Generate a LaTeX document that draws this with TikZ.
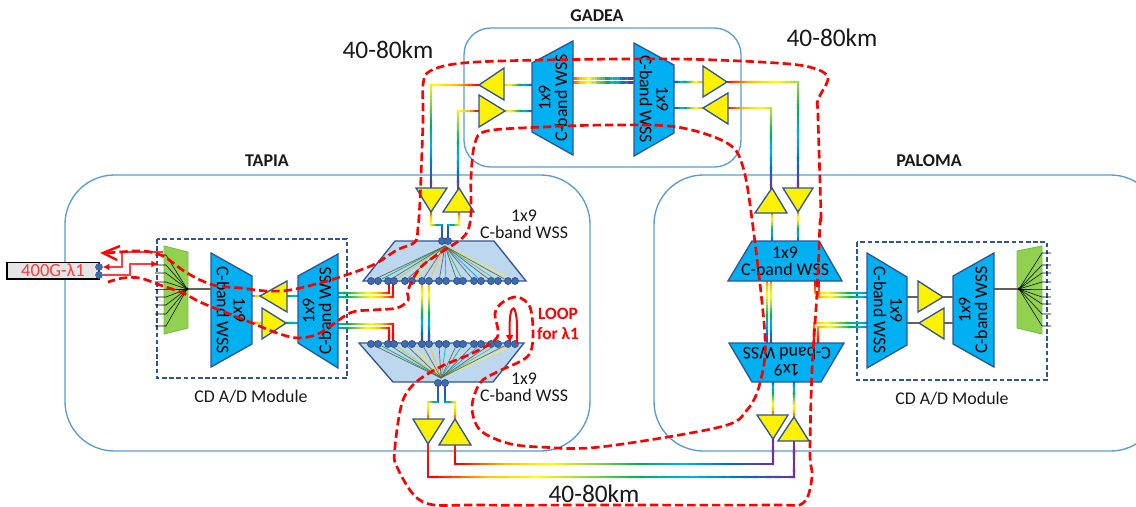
\documentclass[tikz,border=0pt]{standalone}
\usepackage{fontspec}
\setmainfont{Carlito}
\usetikzlibrary{calc,arrows.meta}
\definecolor{edgeblue}{HTML}{2F5597}
\definecolor{boxblue}{HTML}{5B9BD5}
\definecolor{wssblue}{HTML}{00B0F0}
\definecolor{lightwss}{HTML}{BDD7EE}
\definecolor{filtergreen}{HTML}{92D050}
\definecolor{filteredge}{HTML}{70C050}
\definecolor{dotblue}{HTML}{3F6AAE}
\definecolor{thinred}{HTML}{FF3B3B}
\definecolor{fangray}{HTML}{606060}
\definecolor{rc0}{HTML}{7030A0}
\definecolor{rc1}{HTML}{0070C0}
\definecolor{rc2}{HTML}{00B0F0}
\definecolor{rc3}{HTML}{00B050}
\definecolor{rc4}{HTML}{92D050}
\definecolor{rc5}{HTML}{FFFF00}
\definecolor{rc6}{HTML}{FFC000}
\definecolor{rc7}{HTML}{FF0000}
\tikzset{
  site/.style={draw=boxblue,line width=1pt},
  module/.style={draw=edgeblue,line width=1pt,dash pattern=on 3.4pt off 2pt},
  wss/.style={draw=edgeblue,line width=1pt,fill=wssblue},
  wsslight/.style={draw=edgeblue,line width=1pt,fill=lightwss},
  amp/.style={draw=edgeblue,line width=1pt,fill=yellow,line join=miter},
  filt/.style={draw=filteredge,line width=.7pt,fill=filtergreen},
  rbw/.style={line width=1.65pt,line cap=rect},
  fan/.style={draw=black,line width=.4pt},
  fanc/.style={line width=.5pt},
  link/.style={draw=fangray,line width=.8pt},
  port/.style={circle,draw=edgeblue,fill=dotblue,line width=.4pt,minimum size=5.2pt,inner sep=0pt},
  route/.style={draw=red,line width=2pt,dash pattern=on 6.3pt off 3pt},
  thin red/.style={draw=thinred,line width=.8pt},
  wsstext/.style={align=center,font=\fontsize{13.4}{12.6}\selectfont,inner sep=0pt},
  txt/.style={align=center,font=\fontsize{13.4}{12.6}\selectfont,inner sep=0pt,text=black!90},
  title/.style={font=\fontsize{13.5}{14}\bfseries\selectfont,inner sep=0pt,text=black!90},
  dist/.style={font=\fontsize{19}{20}\selectfont,inner sep=0pt,text=black!90},
}
\newcommand\wavecol[2]{%
  \pgfmathsetmacro\wvt{min(6.999,max(0,(#2-410)/33.57))}%
  \pgfmathtruncatemacro\wia{int(\wvt)}%
  \pgfmathtruncatemacro\wib{\wia+1}%
  \pgfmathsetmacro\wpc{100*(1-(\wvt-\wia))}%
  \colorlet{#1}{rc\wia!\wpc!rc\wib}%
}
\newcommand\rb[5]{%
  \foreach \i in {1,...,#1}{%
    \pgfmathsetmacro\ta{(\i-1)/#1}%
    \pgfmathsetmacro\tb{\i/#1}%
    \pgfmathsetmacro\wv{#4+(#5-#4)/#1*(\i-.5)}%
    \wavecol{rbc}{\wv}%
    \draw[rbw,draw=rbc] ($(#2)!\ta!(#3)$) -- ($(#2)!\tb!(#3)$);
  }%
}
% name, three vertices
\newcommand\trg[4]{%
  \coordinate (#1a) at (#2); \coordinate (#1b) at (#3); \coordinate (#1c) at (#4);
  \draw[amp] (#1a) -- (#1b) -- (#1c) -- cycle;
}
\begin{document}
\begin{tikzpicture}[x=.75pt,y=-.75pt]
\path[use as bounding box,fill=white] (0,0) rectangle (1136,507);
\clip (0,0) rectangle (1136,507);
% sites
\draw[site,rounded corners=37pt] (65,175) rectangle (590,451);
\draw[site,rounded corners=37pt] (654,175) rectangle (1160,451);
\draw[site,rounded corners=20pt] (464,28) rectangle (741,167);
\node[title] (gadea) at (597,16) {GADEA};
\node[title] (tapia) at (267,161) {TAPIA};
\node[title] (paloma) at (929,161) {PALOMA};
\node[dist] (d1) at (388,50) {40-80km};
\node[dist] (d2) at (832,38) {40-80km};
\node[dist] (d3) at (594,494) {40-80km};
% modules
\draw[module] (157,239) rectangle (347,378);
\draw[module] (857,242) rectangle (1047,380);
\node[txt] (cd1) at (251,397) {CD A/D Module};
\node[txt] (cd2) at (952,399) {CD A/D Module};

% ---- rainbow links ----
% left module
\coordinate (la1) at (252,296); \coordinate (la2) at (260,296);
\coordinate (la3) at (287,296); \coordinate (la4) at (298,296);
\coordinate (lb1) at (252,323); \coordinate (lb2) at (262,323);
\coordinate (lb3) at (286,323); \coordinate (lb4) at (298,323);
\rb{6}{la1}{la2}{640}{590}
\rb{6}{la3}{la4}{520}{470}
\rb{6}{lb1}{lb2}{640}{590}
\rb{6}{lb3}{lb4}{520}{470}
% left WSS to trapezoids
\coordinate (q1) at (338,293); \coordinate (q1k) at (389,293); \coordinate (q1e) at (389,281);
\coordinate (q2) at (338,297); \coordinate (q2k) at (393,297); \coordinate (q2e) at (393,281);
\coordinate (q3) at (338,324); \coordinate (q3k) at (393,324); \coordinate (q3e) at (393,344);
\coordinate (q4) at (338,328); \coordinate (q4k) at (389,328); \coordinate (q4e) at (389,344);
\rb{22}{q1}{q1k}{480}{640}\rb{4}{q1k}{q1e}{640}{650}
\rb{22}{q2}{q2k}{480}{640}\rb{4}{q2k}{q2e}{640}{650}
\rb{22}{q3}{q3k}{480}{640}\rb{6}{q3k}{q3e}{640}{650}
\rb{22}{q4}{q4k}{480}{640}\rb{6}{q4k}{q4e}{640}{650}
% between trapezoids (left)
\coordinate (v1) at (422,281); \coordinate (v1e) at (422,344);
\coordinate (v2) at (429,281); \coordinate (v2e) at (429,344);
\rb{24}{v1}{v1e}{630}{410}
\rb{24}{v2}{v2e}{630}{410}
% top trapezoid to amps
\coordinate (ta) at (442,241); \coordinate (tak) at (442,225); \coordinate (tak2) at (431,225); \coordinate (tae) at (431,212);
\coordinate (tb) at (448,241); \coordinate (tbk) at (448,225); \coordinate (tbk2) at (459,225); \coordinate (tbe) at (459,212);
\rb{8}{ta}{tak}{410}{450}\rb{8}{tak}{tak2}{450}{560}\rb{6}{tak2}{tae}{560}{630}
\rb{8}{tb}{tbk}{410}{450}\rb{8}{tbk}{tbk2}{450}{560}\rb{6}{tbk2}{tbe}{560}{630}
% bottom trapezoid to amps
\coordinate (ba) at (438,383); \coordinate (bak) at (438,402); \coordinate (bak2) at (428,402); \coordinate (bae) at (428,419);
\coordinate (bb) at (445,383); \coordinate (bbk) at (445,402); \coordinate (bbk2) at (455,402); \coordinate (bbe) at (455,419);
\rb{8}{ba}{bak}{410}{450}\rb{8}{bak}{bak2}{450}{560}\rb{6}{bak2}{bae}{560}{630}
\rb{8}{bb}{bbk}{410}{450}\rb{8}{bbk}{bbk2}{450}{560}\rb{6}{bbk2}{bbe}{560}{630}
% left amps to Gadea
\coordinate (g1s) at (431,188); \coordinate (g1k) at (431,85); \coordinate (g1e) at (480,85);
\coordinate (g2s) at (458,188); \coordinate (g2k) at (458,111); \coordinate (g2e) at (479,111);
\rb{30}{g1s}{g1k}{410}{570}\rb{14}{g1k}{g1e}{570}{645}
\rb{24}{g2s}{g2k}{410}{570}\rb{8}{g2k}{g2e}{570}{645}
% inside Gadea
\coordinate (h1) at (504,85); \coordinate (h1e) at (532,85);
\coordinate (h2) at (505,111); \coordinate (h2e) at (532,111);
\rb{12}{h1}{h1e}{620}{440}\rb{12}{h2}{h2e}{620}{440}
\coordinate (m1) at (573,78.5); \coordinate (m1e) at (634,78.5);
\coordinate (m2) at (573,82.5); \coordinate (m2e) at (634,82.5);
\rb{24}{m1}{m1e}{640}{410}\rb{24}{m2}{m2e}{640}{410}
\coordinate (i1) at (674,82); \coordinate (i1e) at (703,82);
\coordinate (i2) at (674,108); \coordinate (i2e) at (703,108);
\rb{12}{i1}{i1e}{420}{620}\rb{12}{i2}{i2e}{420}{620}
% Gadea to right amps
\coordinate (j1) at (727,82); \coordinate (j1k) at (798,82); \coordinate (j1e) at (798,188);
\coordinate (j2) at (728,108); \coordinate (j2k) at (771,108); \coordinate (j2e) at (771,188);
\rb{20}{j1}{j1k}{645}{550}\rb{28}{j1k}{j1e}{550}{410}
\rb{14}{j2}{j2k}{645}{560}\rb{24}{j2k}{j2e}{560}{410}
% right upper amps to P1
\coordinate (k1) at (772,213); \coordinate (k1e) at (772,241);
\coordinate (k2) at (798,212); \coordinate (k2e) at (798,241);
\rb{10}{k1}{k1e}{630}{440}\rb{10}{k2}{k2e}{630}{440}
% P1 to P2
\coordinate (n1) at (767,281); \coordinate (n1e) at (767,343);
\coordinate (n2) at (771,281); \coordinate (n2e) at (771,343);
\rb{20}{n1}{n1e}{630}{420}\rb{20}{n2}{n2e}{630}{420}
% P to right module
\coordinate (o1) at (815,281); \coordinate (o1k) at (815,293); \coordinate (o1e) at (867,293);
\coordinate (o2) at (819,281); \coordinate (o2k) at (819,297); \coordinate (o2e) at (867,297);
\coordinate (o3) at (814,343); \coordinate (o3k) at (814,323); \coordinate (o3e) at (867,323);
\coordinate (o4) at (818,343); \coordinate (o4k) at (818,327); \coordinate (o4e) at (867,327);
\rb{4}{o1}{o1k}{650}{620}\rb{22}{o1k}{o1e}{620}{460}
\rb{4}{o2}{o2k}{650}{620}\rb{22}{o2k}{o2e}{620}{460}
\rb{5}{o3}{o3k}{650}{620}\rb{22}{o3k}{o3e}{620}{460}
\rb{5}{o4}{o4k}{650}{620}\rb{22}{o4k}{o4e}{620}{460}
% P2 to amps
\coordinate (r1) at (773,382); \coordinate (r1e) at (773,415);
\coordinate (r2) at (794,382); \coordinate (r2e) at (794,417);
\rb{12}{r1}{r1e}{440}{630}\rb{12}{r2}{r2e}{440}{630}
% bottom long links
\coordinate (s1) at (773,439); \coordinate (s1k) at (773,464); \coordinate (s1k2) at (455,464); \coordinate (s1e) at (455,445);
\coordinate (s2) at (794,441); \coordinate (s2k) at (794,477); \coordinate (s2k2) at (428,477); \coordinate (s2e) at (428,444);
\rb{6}{s1}{s1k}{410}{410}\rb{80}{s1k}{s1k2}{410}{648}\rb{4}{s1k2}{s1e}{648}{640}
\rb{6}{s2}{s2k}{410}{410}\rb{80}{s2k}{s2k2}{410}{648}\rb{6}{s2k2}{s2e}{648}{640}

% ---- WSS blocks ----
\draw[wss] (211,253) -- (252,276) -- (252,344) -- (211,367) -- cycle;
\node[wsstext,rotate=-90] (wa) at (231,310) {1x9\\C-band WSS};
\draw[wss] (298,276) -- (338,254) -- (338,368) -- (298,343) -- cycle;
\node[wsstext,rotate=90] (wb) at (317,311) {1x9\\C-band WSS};
\draw[wss] (532,63) -- (573,41) -- (573,155) -- (532,132) -- cycle;
\node[wsstext,rotate=90] (wg1) at (553,98) {1x9\\C-band WSS};
\draw[wss] (634,43) -- (674,65) -- (674,133) -- (634,156) -- cycle;
\node[wsstext,rotate=-90] (wg2) at (654,99) {1x9\\C-band WSS};
\draw[wss] (867,253) -- (907,277) -- (907,345) -- (867,368) -- cycle;
\node[wsstext,rotate=-90] (wc) at (888,310) {1x9\\C-band WSS};
\draw[wss] (953,276) -- (994,253) -- (994,367) -- (953,344) -- cycle;
\node[wsstext,rotate=90] (wd) at (973,310) {1x9\\C-band WSS};
\draw[wss] (752,241) -- (819,241) -- (842,281) -- (728,281) -- cycle;
\node[wsstext] (p1) at (785,261) {1x9\\C-band WSS};
\draw[wss] (729,343) -- (844,343) -- (821,382) -- (752,382) -- cycle;
\node[wsstext,rotate=180] (p2) at (787,362) {1x9\\C-band WSS};

% ---- amplifiers ----
\trg{a1}{260,296}{287,281}{287,312}
\trg{a2}{286,323}{262,308}{262,339}
\trg{a3}{416,188}{447,188}{431,212}
\trg{a4}{459,188}{443,212}{474,212}
\trg{a5}{413,419}{444,419}{428,444}
\trg{a6}{455,419}{439,445}{471,445}
\trg{a7}{479,85}{504,68}{504,100}
\trg{a8}{505,111}{479,95}{479,127}
\trg{a9}{727,82}{703,66}{703,97}
\trg{a10}{703,108}{728,93}{728,124}
\trg{a11}{772,188}{755,213}{787,213}
\trg{a12}{783,188}{813,188}{798,212}
\trg{a13}{757,415}{788,415}{773,439}
\trg{a14}{794,417}{778,441}{809,441}
\trg{a15}{943,297}{918,281}{918,312}
\trg{a16}{919,323}{944,308}{944,339}

% ---- grey links, right module ----
\coordinate (u1) at (907,297); \coordinate (u2) at (907,323);
\coordinate (u3) at (953,297); \coordinate (u4) at (953,323);
\draw[link] (u1) -- (a15b |- u1);
\draw[link] (u2) -- (a16a);
\draw[link] (a15a) -- (u3);
\draw[link] (a16b |- u4) -- (u4);

% ---- filters ----
\draw[filt] (164,246) -- (188,252) -- (188,328) -- (164,334) -- cycle;
\coordinate (fl) at (187,289); \coordinate (flw) at (211,289);
\draw[link] (fl) -- (flw);
\foreach \y [count=\i] in {255,265,273,282,289,297,305,314,326}{
  \coordinate (fls\i) at (155,\y); \coordinate (flp\i) at (166,\y);
  \draw[fan] (fls\i) -- (flp\i) -- (fl);
}
\fill (fl) circle (1.2pt);
\draw[filt] (1017,251) -- (1042,246) -- (1042,334) -- (1017,328) -- cycle;
\coordinate (fr) at (1019,289); \coordinate (frw) at (994,289);
\draw[link] (frw) -- (fr);
\foreach \y [count=\i] in {253,265,273,282,289,297,304,314,326}{
  \coordinate (frs\i) at (1051,\y); \coordinate (frp\i) at (1042,\y);
  \draw[fan] (frs\i) -- (frp\i) -- (fr);
}
\fill (fr) circle (1.2pt);

% ---- light trapezoids with ports ----
\draw[wsslight] (395,241) -- (494,241) -- (526,281) -- (363,281) -- cycle;
\draw[wsslight] (359,343) -- (524,343) -- (493,382) -- (393,382) -- cycle;
\node[port] (tt1) at (442,241) {};
\node[port] (tt2) at (448,241) {};
\node[port] (bt1) at (438,383) {};
\node[port] (bt2) at (445,383) {};
\foreach \x [count=\i] in {371,378,388,394,405,412,422,429,439,446,457,463,474,481,491,498,508,515}{
  \node[port] (tr\i) at (\x,281) {};
  \node[port] (br\i) at (\x,344) {};
}
\coordinate (tc) at (445,246); \coordinate (bc) at (441,378);
\foreach \i/\c in {2/510,4/550,6/575,8/610,10/480,12/520,14/470,16/530,18/580}{
  \wavecol{fc}{\c}
  \draw[fanc,draw=fc] (tc) -- (tr\i);
  \draw[fanc,draw=fc] (bc) -- (br\i);
}
\foreach \i in {1,3,...,17}{
  \draw[fanc,draw=fangray] (tc) -- (tr\i);
  \draw[fanc,draw=fangray] (bc) -- (br\i);
}
\foreach \n in {tt1,tt2,bt1,bt2}{\node[port] at (\n) {};}
\foreach \i in {1,...,18}{\node[port] at (tr\i) {};\node[port] at (br\i) {};}
\node[txt] (lab1) at (524,224) {1x9\\C-band WSS};
\node[txt] (lab2) at (524,387) {1x9\\C-band WSS};

% ---- transponder ----
\node[draw=black,line width=1pt,fill=black!10,minimum width=69pt,minimum height=12.5pt,inner sep=0pt,text=thinred,font=\fontsize{13.9}{14}\selectfont] (tp) at (53,270.5) {400G-λ1};
\node[port] (tp1) at (99,267) {};
\node[port] (tp2) at (99,275) {};
\coordinate (c1) at (163,252); \coordinate (c1k) at (122,252); \coordinate (c1j) at (122,267);
\coordinate (c2k) at (130,275); \coordinate (c2j) at (130,264); \coordinate (c2e) at (158,264);
\draw[thin red,-{Latex[length=5pt,width=5pt,color=red]}] (c1) -- (c1k) -- (c1j) -- (tp1);
\draw[thin red,-{Latex[length=5pt,width=5pt,color=red]}] (tp2) -- (c2k) -- (c2j) -- (c2e);

% ---- optical route ----
\draw[route] plot[smooth,tension=.55] coordinates {
 (107,253) (120,252) (143,251) (163,256) (187,273) (213,285) (240,288) (267,291) (290,290) (320,283)
 (340,277) (373,265) (397,250) (415,242) (418,227) (420,200) (423,120) (423,85) (430,71) (463,63)
 (543,60) (677,59) (777,63) (813,68) (828,78) (818,100) (818,117) (821,217) (820,223) (817,293)
 (812,370) (810,453) (812,477) (803,503) (770,505) (600,505) (480,505) (423,502) (397,467) (395,447)
 (402,403) (415,383) (440,367) (473,353) (495,340) (498,330) (495,313) (503,302) (517,297) (530,307)
 (533,337) (527,357) (497,372) (480,383) (472,407) (480,430) (507,443) (540,447) (600,447) (720,427)
 (747,410) (760,383) (765,337) (753,227) (743,167) (727,143) (677,127) (610,125) (543,127) (487,131)
 (475,143) (471,177) (471,213) (468,230) (460,240) (440,253) (420,268) (408,290) (408,300) (397,308)
 (373,310) (350,313) (320,333) (298,338) (277,333) (257,325) (227,313) (200,302) (183,293) (160,285)
 (140,278) (123,278) (108,282)};
\coordinate (ah) at (103,253);
\draw[draw=red,line width=1.8pt] (120,246) -- (ah) -- (117,260);
% loop
\coordinate (l1) at (517,343); \coordinate (l2) at (510,343);
\draw[draw=red,line width=1.5pt,-{Latex[length=6pt,width=6pt]}] (l1) .. controls (519,298) and (508,298) .. (l2);
\node[inner sep=0pt,align=center,text=red,font=\fontsize{13}{15.5}\bfseries\selectfont] (loop) at (558,324) {LOOP\\for λ1};
\end{tikzpicture}
\end{document}
